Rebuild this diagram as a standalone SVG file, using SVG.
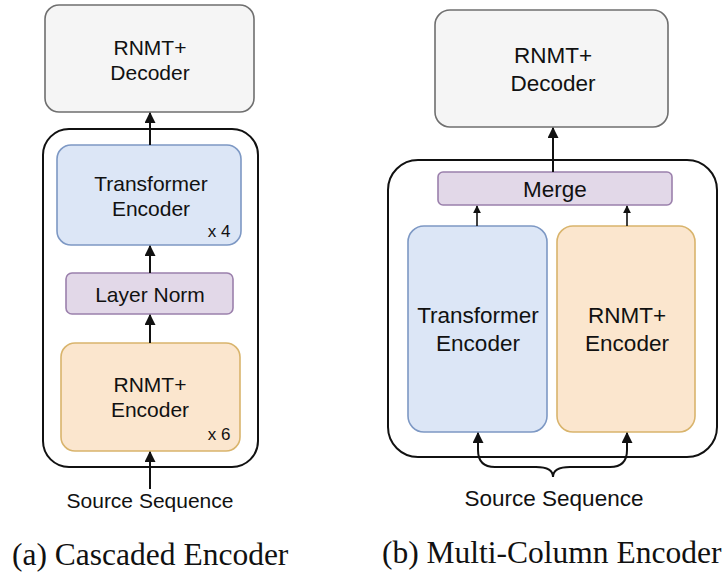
<svg xmlns="http://www.w3.org/2000/svg" width="727" height="574" viewBox="0 0 727 574">
  <style>
    .lbl { font-family: "Liberation Sans", Arial, sans-serif; fill: #111; text-anchor: middle; }
    .cap { font-family: "Liberation Serif", "Times New Roman", serif; fill: #111; font-size: 31.5px; }
    .dec { fill: #f5f5f5; stroke: #6f6f6f; stroke-width: 1.6; }
    .blue { fill: #dce6f6; stroke: #7d98c4; stroke-width: 1.6; }
    .orange { fill: #fbe6ce; stroke: #d9b46c; stroke-width: 1.6; }
    .purple { fill: #e2d8e8; stroke: #9b80ac; stroke-width: 1.6; }
    .box { fill: #ffffff; stroke: #111; stroke-width: 2; }
    .edge { fill: none; stroke: #111; stroke-width: 2; }
    .thin { fill: none; stroke: #111; stroke-width: 1.6; }
  </style>
  <defs>
    <marker id="head" viewBox="0 0 10 10" refX="9" refY="5" markerWidth="5.5" markerHeight="5.5" markerUnits="strokeWidth" orient="auto-start-reverse">
      <path d="M0,0 L10,5 L0,10 Z" fill="#111"/>
    </marker>
    <marker id="headSm" viewBox="0 0 10 10" refX="9" refY="5" markerWidth="5" markerHeight="5" markerUnits="strokeWidth" orient="auto-start-reverse">
      <path d="M0,0 L10,5 L0,10 Z" fill="#111"/>
    </marker>
  </defs>

  <rect width="727" height="574" fill="#ffffff"/>

  <!-- (a) cascaded encoder -->
  <g id="a-container"><rect class="box" x="43" y="129" width="215" height="338" rx="26"/></g>
  <g id="a-decoder">
    <rect class="dec" x="45" y="5" width="209" height="107" rx="14"/>
    <text class="lbl" x="150" y="55" font-size="21">RNMT+</text>
    <text class="lbl" x="150" y="80" font-size="21">Decoder</text>
  </g>
  <g id="a-transformer">
    <rect class="blue" x="57" y="145" width="184" height="100" rx="14"/>
    <text class="lbl" x="151" y="191" font-size="21">Transformer</text>
    <text class="lbl" x="151" y="216" font-size="21">Encoder</text>
    <text class="lbl" x="219" y="237" font-size="17">x 4</text>
  </g>
  <g id="a-layernorm">
    <rect class="purple" x="66" y="273" width="167" height="41" rx="6"/>
    <text class="lbl" x="150" y="302" font-size="21">Layer Norm</text>
  </g>
  <g id="a-rnmt">
    <rect class="orange" x="61" y="343" width="179" height="108" rx="14"/>
    <text class="lbl" x="150" y="392" font-size="21">RNMT+</text>
    <text class="lbl" x="150" y="417" font-size="21">Encoder</text>
    <text class="lbl" x="219" y="440" font-size="17">x 6</text>
  </g>
  <g id="a-source">
    <text class="lbl" x="150" y="508" font-size="21">Source Sequence</text>
  </g>

  <!-- (b) multi-column encoder -->
  <g id="b-container"><rect class="box" x="388" y="160" width="329" height="297" rx="30"/></g>
  <g id="b-decoder">
    <rect class="dec" x="435" y="10" width="233" height="117" rx="15"/>
    <text class="lbl" x="553" y="63" font-size="22.5">RNMT+</text>
    <text class="lbl" x="553" y="91" font-size="22.5">Decoder</text>
  </g>
  <g id="b-merge">
    <rect class="purple" x="438" y="172" width="234" height="33" rx="5"/>
    <text class="lbl" x="555" y="197" font-size="22.5">Merge</text>
  </g>
  <g id="b-transformer">
    <rect class="blue" x="408" y="226" width="139" height="206" rx="16"/>
    <text class="lbl" x="478" y="323" font-size="22.5">Transformer</text>
    <text class="lbl" x="478" y="351" font-size="22.5">Encoder</text>
  </g>
  <g id="b-rnmt">
    <rect class="orange" x="557" y="226" width="138" height="206" rx="16"/>
    <text class="lbl" x="627" y="323" font-size="22.5">RNMT+</text>
    <text class="lbl" x="627" y="351" font-size="22.5">Encoder</text>
  </g>
  <g id="b-source">
    <text class="lbl" x="554" y="506" font-size="22.5">Source Sequence</text>
  </g>

  <!-- connectors -->
  <g id="connectors">
    <path class="edge" d="M150,145 L150,113" marker-end="url(#head)"/>
    <path class="edge" d="M150,273 L150,246" marker-end="url(#head)"/>
    <path class="edge" d="M150,343 L150,315" marker-end="url(#head)"/>
    <path class="edge" d="M150,489 L150,452" marker-end="url(#head)"/>

    <path class="edge" d="M553,172 L553,128" marker-end="url(#head)"/>
    <path class="thin" d="M477,226 L477,206" marker-end="url(#headSm)"/>
    <path class="thin" d="M627,226 L627,206" marker-end="url(#headSm)"/>
    <path class="edge" d="M478,433 L478,450 Q478,467 495,467 L536,467 Q553,467 553,477 Q553,467 570,467 L610,467 Q627,467 627,450 L627,433" marker-start="url(#head)" marker-end="url(#head)"/>
  </g>

  <text class="cap" x="12" y="565">(a) Cascaded Encoder</text>
  <text class="cap" x="382" y="563">(b) Multi-Column Encoder</text>
</svg>
